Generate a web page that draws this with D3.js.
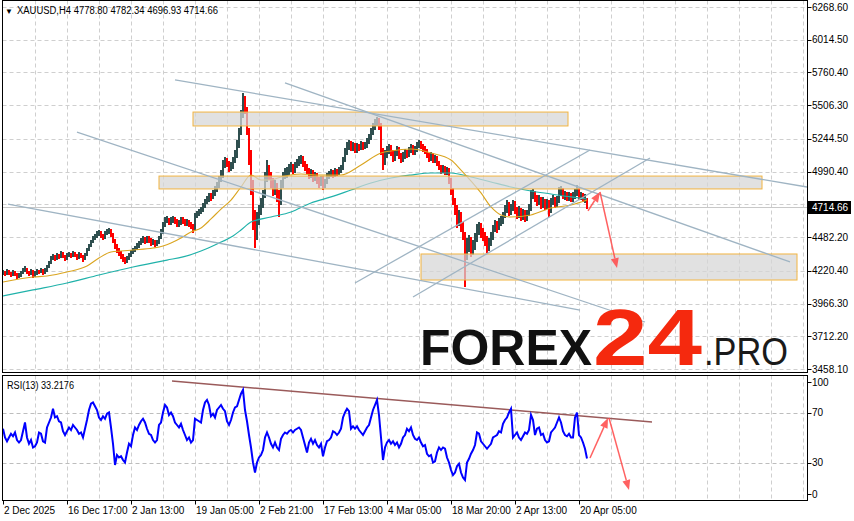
<!DOCTYPE html>
<html><head><meta charset="utf-8">
<script src="https://cdn.jsdelivr.net/npm/d3@7"></script>
<style>
body{margin:0;background:#fff}
svg{display:block}
text{font-family:"Liberation Sans",Arial,sans-serif}
</style>
</head><body>
<svg id="c" width="854" height="521"></svg>
<script>
// ---------- DATA (H4 bars, 2 px per sampled bar) ----------
const closes = [
4211,4196,4219,4203,4188,4211,4196,4180,4188,4203,
4227,4242,4211,4196,4219,4180,4203,4219,4211,4227,
4203,4219,4250,4281,4312,4335,4320,4343,4328,4359,
4335,4320,4343,4351,4335,4359,4343,4328,4351,4335,
4320,4343,4382,4413,4444,4467,4491,4506,4522,4498,
4483,4514,4530,4537,4506,4460,4413,4382,4359,4335,
4312,4289,4320,4343,4366,4382,4397,4413,4436,4452,
4467,4452,4475,4460,4436,4452,4429,4444,4475,4522,
4576,4615,4623,4599,4615,4631,4607,4584,4599,4623,
4607,4592,4607,4584,4568,4537,4646,4662,4677,4693,
4724,4755,4778,4801,4794,4825,4848,4887,4925,4964,
5042,5081,5057,5019,5034,5081,5120,5197,5298,5430,
5562,5469,5314,5120,4887,4654,4498,4615,4693,4731,
4809,4941,5019,4964,4910,4848,4887,4809,4770,4887,
4956,4980,4987,5019,5034,5003,5042,5065,5081,5096,
5057,5026,5003,4964,4987,4941,4964,4925,4902,4941,
4887,4910,4956,4972,4987,4964,4995,4980,5003,5019,
5081,5143,5189,5213,5174,5197,5158,5189,5174,5205,
5182,5197,5228,5252,5298,5337,5376,5391,5353,5158,
5065,5120,5158,5174,5143,5096,5135,5166,5120,5081,
5112,5143,5120,5158,5182,5143,5166,5197,5213,5189,
5174,5158,5120,5096,5120,5081,5096,5057,5026,5003,
5019,4987,5003,4925,4848,4770,4693,4599,4654,4576,
4498,4382,4421,4460,4382,4421,4475,4537,4568,4522,
4498,4460,4397,4436,4491,4553,4576,4561,4599,4615,
4654,4693,4731,4677,4708,4739,4693,4662,4693,4646,
4677,4631,4669,4708,4809,4825,4786,4755,4778,4731,
4763,4724,4747,4693,4755,4778,4739,4770,4832,4848,
4801,4817,4786,4809,4778,4801,4832,4848,4794,4809,
4778,4778.80,4714.66];

const highs = [
4227,4219,4235,4227,4211,4227,4219,4203,4203,4219,
4242,4258,4242,4219,4235,4227,4219,4235,4227,4242,
4235,4242,4266,4297,4335,4351,4343,4359,4351,4374,
4366,4343,4359,4366,4359,4374,4366,4351,4366,4359,
4343,4359,4397,4429,4460,4491,4506,4530,4537,4530,
4506,4530,4545,4553,4545,4514,4467,4429,4397,4374,
4351,4328,4335,4359,4382,4397,4413,4436,4452,4475,
4491,4483,4491,4491,4475,4467,4460,4460,4491,4545,
4599,4638,4646,4631,4638,4646,4638,4623,4615,4638,
4638,4623,4623,4615,4599,4584,4669,4685,4700,4716,
4747,4778,4801,4825,4825,4848,4879,4910,4956,5003,
5081,5104,5096,5073,5065,5104,5158,5236,5329,5469,
5601,5578,5492,5329,5158,4925,4693,4677,4731,4786,
4848,4987,5081,5042,4987,4941,4925,4902,4848,4925,
4987,5019,5026,5050,5065,5050,5065,5088,5112,5120,
5112,5073,5050,5019,5011,5003,4987,4980,4949,4956,
4956,4933,4980,4995,5011,5003,5019,5011,5026,5042,
5104,5174,5221,5236,5228,5221,5213,5213,5205,5228,
5221,5221,5252,5283,5329,5368,5399,5415,5407,5368,
5174,5158,5189,5205,5197,5158,5158,5189,5182,5135,
5143,5166,5158,5182,5205,5197,5189,5221,5236,5228,
5205,5189,5166,5135,5143,5135,5120,5112,5073,5042,
5042,5034,5026,5019,4941,4863,4786,4731,4693,4677,
4599,4522,4475,4498,4483,4460,4514,4584,4599,4592,
4553,4522,4491,4475,4522,4576,4615,4607,4631,4646,
4677,4731,4770,4755,4739,4770,4763,4716,4724,4708,
4700,4693,4693,4739,4848,4856,4840,4809,4809,4794,
4794,4778,4778,4770,4786,4809,4794,4801,4871,4879,
4863,4840,4832,4832,4825,4832,4856,4887,4863,4832,
4825,4817,4782.34];

const lows = [
4188,4180,4188,4188,4172,4180,4180,4157,4165,4172,
4196,4211,4196,4180,4188,4165,4172,4188,4196,4203,
4188,4196,4211,4242,4273,4304,4297,4304,4312,4320,
4320,4297,4304,4328,4320,4328,4328,4304,4312,4320,
4289,4304,4335,4374,4405,4436,4460,4475,4491,4475,
4460,4467,4498,4506,4483,4436,4390,4359,4335,4312,
4289,4273,4281,4304,4328,4351,4366,4382,4397,4421,
4436,4429,4436,4436,4413,4421,4405,4413,4429,4467,
4506,4561,4592,4576,4576,4592,4584,4561,4561,4576,
4584,4568,4568,4561,4545,4514,4530,4631,4646,4662,
4677,4708,4739,4755,4763,4778,4801,4832,4863,4910,
4941,5019,5026,4987,4995,5011,5057,5096,5174,5275,
5407,5438,5275,5042,4809,4537,4397,4460,4576,4654,
4708,4786,4910,4925,4863,4801,4809,4755,4638,4731,
4863,4933,4941,4964,4987,4972,4980,5019,5034,5050,
5026,4995,4972,4933,4941,4910,4918,4894,4863,4879,
4848,4863,4894,4933,4949,4941,4949,4956,4964,4980,
5003,5065,5120,5158,5151,5151,5135,5135,5151,5158,
5158,5166,5174,5205,5236,5275,5314,5345,5314,5120,
5003,5042,5096,5127,5112,5065,5073,5112,5088,5057,
5065,5088,5096,5104,5135,5120,5120,5143,5174,5166,
5143,5127,5096,5065,5073,5057,5057,5034,5003,4972,
4980,4964,4964,4894,4809,4731,4654,4553,4568,4522,
4460,4095,4304,4366,4328,4343,4382,4444,4498,4475,
4452,4413,4359,4374,4413,4460,4522,4514,4537,4568,
4584,4631,4669,4646,4654,4685,4662,4623,4631,4607,
4615,4599,4607,4646,4685,4778,4755,4724,4731,4700,
4708,4693,4700,4638,4669,4731,4708,4716,4747,4801,
4778,4770,4763,4763,4755,4755,4778,4801,4770,4770,
4755,4747,4696.93];

const rsi = [
57,50,47,50,53,51,54,48,46,48,
55,62,50,45,48,42,43,46,54,53,
47,46,58,62,66,73,66,67,63,62,
55,52,55,58,56,60,58,56,53,54,
50,57,64,72,77,78,75,72,66,64,
67,65,69,70,58,45,28,36,34,35,
32,30,38,45,43,52,58,56,60,63,
65,62,57,53,52,48,46,48,60,62,
70,76,74,68,70,67,62,60,58,61,
56,52,48,50,46,48,65,64,63,62,
72,78,80,76,67,69,66,72,74,76,
73,71,63,60,64,70,74,75,80,85,
88,72,63,52,42,30,22,30,34,36,
40,50,54,50,45,42,46,42,40,49,
52,54,53,55,56,54,56,57,58,56,
50,44,38,46,49,45,48,44,42,45,
35,42,47,48,50,55,54,52,54,57,
66,70,73,71,57,59,57,59,56,54,
52,55,58,60,66,72,76,80,68,50,
32,42,46,48,45,47,44,46,42,45,
50,52,57,55,58,52,49,48,50,46,
43,44,37,35,36,30,31,38,42,40,
42,41,34,30,24,20,22,27,29,22,
18,16,30,33,37,40,44,54,53,47,
45,43,41,43,45,50,51,52,55,54,
61,64,66,70,73,50,52,54,50,48,
51,54,53,56,68,64,52,57,58,52,
53,48,46,47,54,56,58,62,66,62,
55,52,51,53,50,50,66,70,52,50,
46,41,33.2176];

// moving averages (sampled at bar indices)
const maFastIdx = [0,15,22,32,42,48,54,59,65,75,80,84,89,94,99,104,109,114,119,124,129,134,139,149,159,169,179,189,194,204,214,224,229,239,244,249,254,264,274,284,292];
const maFast    = [4134,4172,4180,4211,4258,4320,4366,4374,4382,4397,4413,4436,4475,4522,4553,4623,4700,4770,4871,4964,4925,4925,4949,4972,4964,4964,5042,5135,5151,5166,5135,5081,5003,4825,4716,4654,4638,4654,4708,4731,4770];
const maSlowIdx = [0,15,32,48,65,82,90,99,107,115,119,124,134,144,154,164,174,184,194,204,214,224,234,244,254,264,274,284,292];
const maSlow    = [4025,4072,4126,4188,4250,4304,4328,4374,4429,4491,4537,4599,4638,4677,4747,4794,4848,4902,4941,4964,4980,4980,4949,4910,4871,4840,4817,4794,4778];

// axis labels
const priceTicks = [6268.60,6014.50,5760.40,5506.30,5244.50,4990.40,4482.20,4220.40,3966.30,3712.20,3458.10];
const priceGridOnly = [4736.30];
const lastPrice = 4714.66;
const timeTickIdx = [0,32,64,96,128,160,192,224,256,288];
const timeLabels = ["2 Dec 2025","16 Dec 17:00","2 Jan 13:00","19 Jan 05:00","2 Feb 21:00","17 Feb 13:00","4 Mar 05:00","18 Mar 20:00","2 Apr 13:00","20 Apr 05:00"];
const rsiTicks = [100,70,30,0];
const rsiLevels = [70,30];
const header = "XAUUSD,H4  4778.80 4782.34 4696.93 4714.66";
const rsiTitle = "RSI(13) 33.2176";

// annotations in data coordinates [barIndex, price]
const trendLines = [
  [[86,5702],[402,4871]],
  [[141,5679],[393.5,4289]],
  [[37,5298],[321,3823]],
  [[2.5,4739],[288.5,3916]],
  [[176,4126],[293.5,5158]],
  [[205,4017],[323.5,5096]]
];
const zones = [
  {i0:95, i1:282.5, top:5453, bot:5345},
  {i0:78, i1:379.5, top:4956, bot:4856},
  {i0:209, i1:397, top:4351, bot:4149}
];
const priceArrows = [
  [[292.5,4685],[298.5,4832]],
  [[298.5,4832],[307,4242]]
];
const rsiTrend = [[84.5,95.2],[324.5,62.4]];
const rsiArrows = [
  [[293.5,33.6],[302.5,65.6]],
  [[303,65.6],[313,8]]
];

// ---------- CHART ----------
const svg = d3.select('#c');
const xL = 2.5, xR = 807.5;
const mTop = 0.5, mBot = 372.5, rTop = 375.5, rBot = 500.5;

const x = d3.scaleLinear().domain([0,402]).range([3,807]);
const y = d3.scaleLinear().domain([3458.1,6268.6]).range([369,7]);
const yr = d3.scaleLinear().domain([0,100]).range([500,375]);

const defs = svg.append('defs');
defs.append('clipPath').attr('id','cm').append('rect').attr('x',xL).attr('y',mTop).attr('width',xR-xL).attr('height',mBot-mTop);
defs.append('clipPath').attr('id','cr').append('rect').attr('x',xL).attr('y',rTop).attr('width',xR-xL).attr('height',rBot-rTop);

const gridColor = '#cfcfcf';
const dash = '4,3';
const vGrid = d3.range(16, 402, 16);

// main panel
const gm = svg.append('g').attr('clip-path','url(#cm)');
gm.selectAll('line.vg').data(vGrid).join('line')
  .attr('x1',d=>Math.round(x(d))+0.5).attr('x2',d=>Math.round(x(d))+0.5)
  .attr('y1',mTop).attr('y2',mBot).attr('stroke',gridColor).attr('stroke-dasharray',dash);
gm.selectAll('line.hg').data(priceTicks.concat(priceGridOnly)).join('line')
  .attr('x1',xL).attr('x2',xR)
  .attr('y1',d=>Math.round(y(d))+0.5).attr('y2',d=>Math.round(y(d))+0.5)
  .attr('stroke',gridColor).attr('stroke-dasharray',dash);
// bid line
gm.append('line').attr('x1',xL).attr('x2',xR)
  .attr('y1',Math.round(y(lastPrice))+0.5).attr('y2',Math.round(y(lastPrice))+0.5)
  .attr('stroke','#c8c8c8');

// candles (bars)
const opens = closes.map((c,i)=> i===0 ? closes[0] : closes[i-1]);
const idx = d3.range(closes.length);
gm.selectAll('rect.bar').data(idx).join('rect')
  .attr('x',i=>x(i)-1).attr('width',2)
  .attr('y',i=>y(Math.max(highs[i],opens[i],closes[i])))
  .attr('height',i=>Math.max(1, y(Math.min(lows[i],opens[i],closes[i]))-y(Math.max(highs[i],opens[i],closes[i]))))
  .attr('fill',i=> closes[i]>=opens[i] ? '#2f4f4f' : '#ff0000')
  .attr('shape-rendering','crispEdges');

// moving averages
const maLine = d3.line().x(d=>x(d[0])).y(d=>y(d[1])).curve(d3.curveMonotoneX);
gm.append('path').attr('d',maLine(maSlowIdx.map((i,k)=>[i,maSlow[k]])))
  .attr('fill','none').attr('stroke','#20b2aa').attr('stroke-width',1.2);
gm.append('path').attr('d',maLine(maFastIdx.map((i,k)=>[i,maFast[k]])))
  .attr('fill','none').attr('stroke','#daa520').attr('stroke-width',1.1);

// zones
gm.selectAll('rect.zone').data(zones).join('rect')
  .attr('x',d=>x(d.i0)).attr('width',d=>x(d.i1)-x(d.i0))
  .attr('y',d=>y(d.top)).attr('height',d=>y(d.bot)-y(d.top))
  .attr('fill','#d6d6d6').attr('fill-opacity',0.72)
  .attr('stroke','#f2b440').attr('stroke-width',1);

// trend lines
gm.selectAll('line.tl').data(trendLines).join('line')
  .attr('x1',d=>x(d[0][0])).attr('y1',d=>y(d[0][1]))
  .attr('x2',d=>x(d[1][0])).attr('y2',d=>y(d[1][1]))
  .attr('stroke','#9fb4c3').attr('stroke-width',1.3);

// arrows
function drawArrow(g, p0, p1, sy){
  const x0=x(p0[0]), y0=sy(p0[1]), x1=x(p1[0]), y1=sy(p1[1]);
  const a=Math.atan2(y1-y0,x1-x0), len=10, hw=4;
  const bx=x1-len*Math.cos(a), by=y1-len*Math.sin(a);
  g.append('line').attr('x1',x0).attr('y1',y0).attr('x2',bx).attr('y2',by)
    .attr('stroke','#ff5050').attr('stroke-width',1.5).attr('stroke-opacity',0.9);
  g.append('path').attr('d',`M${x1},${y1}L${bx+hw*Math.sin(a)},${by-hw*Math.cos(a)}L${bx-hw*Math.sin(a)},${by+hw*Math.cos(a)}Z`)
    .attr('fill','#ff5050').attr('fill-opacity',0.9);
}
priceArrows.forEach(a=>drawArrow(gm,a[0],a[1],y));

// watermark
const wm = svg.append('g');
wm.append('text').attr('x',420).attr('y',365).text('FOREX')
  .attr('font-family','Lato, Inter, sans-serif').attr('font-weight',900).attr('font-size',50)
  .attr('textLength',172).attr('lengthAdjust','spacingAndGlyphs').attr('fill','#111');
wm.append('text').attr('x',593).attr('y',365).text('24')
  .attr('font-family','Lato, Inter, sans-serif').attr('font-weight',900).attr('font-size',80)
  .attr('textLength',109).attr('lengthAdjust','spacingAndGlyphs').attr('fill','#f5290e');
wm.append('text').attr('x',704).attr('y',365).text('.PRO')
  .attr('font-family','Lato, Inter, sans-serif').attr('font-weight',300).attr('font-size',39)
  .attr('textLength',84).attr('lengthAdjust','spacingAndGlyphs').attr('fill','#1a1a1a');

// RSI panel
const gr = svg.append('g').attr('clip-path','url(#cr)');
gr.selectAll('line.vg').data(vGrid).join('line')
  .attr('x1',d=>Math.round(x(d))+0.5).attr('x2',d=>Math.round(x(d))+0.5)
  .attr('y1',rTop).attr('y2',rBot).attr('stroke',gridColor).attr('stroke-dasharray',dash);
gr.selectAll('line.hg').data(rsiLevels).join('line')
  .attr('x1',xL).attr('x2',xR)
  .attr('y1',d=>Math.round(yr(d))+0.5).attr('y2',d=>Math.round(yr(d))+0.5)
  .attr('stroke','#bdbdbd').attr('stroke-dasharray',dash);
gr.append('line')
  .attr('x1',x(rsiTrend[0][0])).attr('y1',yr(rsiTrend[0][1]))
  .attr('x2',x(rsiTrend[1][0])).attr('y2',yr(rsiTrend[1][1]))
  .attr('stroke','#9a5a5a').attr('stroke-width',1.5);
gr.append('path').attr('d',d3.line().x((d,i)=>x(i)).y(d=>yr(d))(rsi))
  .attr('fill','none').attr('stroke','#0000ff').attr('stroke-width',2).attr('stroke-linejoin','miter');
rsiArrows.forEach(a=>drawArrow(gr,a[0],a[1],yr));

// frames
svg.append('rect').attr('x',xL).attr('y',mTop).attr('width',xR-xL).attr('height',mBot-mTop)
  .attr('fill','none').attr('stroke','#000');
svg.append('rect').attr('x',xL).attr('y',rTop).attr('width',xR-xL).attr('height',rBot-rTop)
  .attr('fill','none').attr('stroke','#000');

// right price axis
const ax = svg.append('g');
ax.selectAll('line.pt').data(priceTicks).join('line')
  .attr('x1',xR).attr('x2',xR+4).attr('y1',d=>Math.round(y(d))+0.5).attr('y2',d=>Math.round(y(d))+0.5).attr('stroke','#000');
ax.selectAll('text.pt').data(priceTicks).join('text')
  .attr('x',812).attr('y',d=>y(d)).attr('dy','0.35em').attr('font-size',10).attr('fill','#000')
  .text(d=>d.toFixed(2));
ax.append('rect').attr('x',808).attr('y',Math.round(y(lastPrice))-6).attr('width',43).attr('height',13).attr('fill','#000');
ax.append('text').attr('x',812).attr('y',y(lastPrice)).attr('dy','0.37em').attr('font-size',10).attr('fill','#fff').text(lastPrice.toFixed(2));

// RSI axis
const rsiLabelY = v => Math.min(494, Math.max(382, yr(v)));
ax.selectAll('line.rt').data(rsiTicks).join('line')
  .attr('x1',xR).attr('x2',xR+4).attr('y1',d=>Math.round(rsiLabelY(d))+0.5).attr('y2',d=>Math.round(rsiLabelY(d))+0.5).attr('stroke','#000');
ax.selectAll('text.rt').data(rsiTicks).join('text')
  .attr('x',812).attr('y',d=>rsiLabelY(d)).attr('dy','0.35em').attr('font-size',10).attr('fill','#000')
  .text(d=>d);

// time axis
ax.selectAll('line.tt').data(timeTickIdx).join('line')
  .attr('x1',d=>Math.round(x(d))+0.5).attr('x2',d=>Math.round(x(d))+0.5).attr('y1',rBot).attr('y2',rBot+4).attr('stroke','#000');
ax.selectAll('text.tt').data(timeTickIdx).join('text')
  .attr('x',d=>x(d)+1).attr('y',514).attr('font-size',10).attr('fill','#000')
  .text((d,i)=>timeLabels[i]);

// titles
svg.append('text').attr('x',5).attr('y',13.5).attr('font-size',8).attr('font-family','DejaVu Sans').text('▼');
svg.append('text').attr('x',17).attr('y',14).attr('font-size',10).attr('fill','#000')
  .attr('textLength',201).attr('lengthAdjust','spacingAndGlyphs').text(header);
svg.append('text').attr('x',7).attr('y',389).attr('font-size',10).attr('fill','#000')
  .attr('textLength',67).attr('lengthAdjust','spacingAndGlyphs').text(rsiTitle);
</script>
</body></html>
